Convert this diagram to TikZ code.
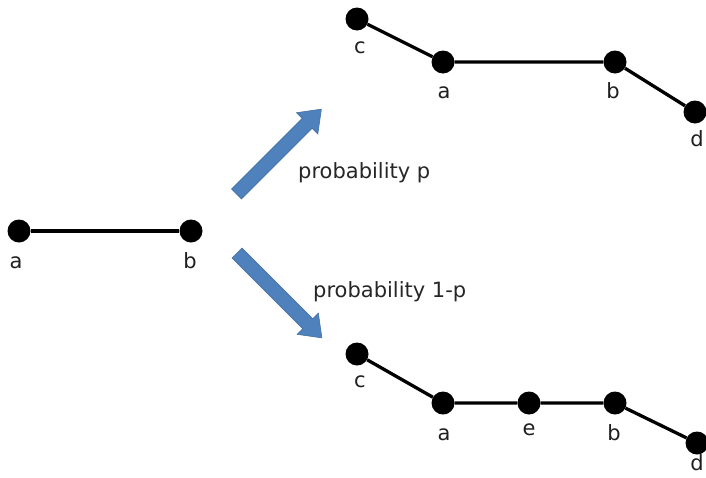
\documentclass[tikz,border=0pt]{standalone}
\usepackage{fontspec}
\setmainfont{DejaVu Sans}
\definecolor{arrowblue}{HTML}{4F81BD}
\definecolor{arrowedge}{HTML}{43709F}
\begin{document}
\begin{tikzpicture}[x=1pt,y=-1pt,
  vertex/.style={circle,fill=black,inner sep=0pt,minimum size=23pt},
  edge/.style={line width=3.3pt,black},
  lbl/.style={anchor=base,inner sep=0pt,font=\fontsize{21}{25}\selectfont,text=black!88},
  caption/.style={anchor=base west,inner sep=0pt,font=\fontsize{21}{25}\selectfont,text=black!85},
  blockarrow/.style={fill=arrowblue,draw=arrowedge,line width=0.6pt,line join=miter}]
\useasboundingbox (0,0) rectangle (706,477);

% starting graph: a single edge a--b
\node[vertex] (La) at (19,231) {};
\node[vertex] (Lb) at (191,231) {};
\draw[edge] (La) -- (Lb);
\node[lbl] at (16,268) {a};
\node[lbl] at (190,268) {b};

% block arrows towards the two outcomes
\begin{scope}[shift={(236.5,194)},rotate=45]
  \fill[blockarrow] (0,-7) -- (100,-7) -- (100,-15) -- (120,0) -- (100,15) -- (100,7) -- (0,7) -- cycle;
\end{scope}
\begin{scope}[shift={(237,253)},rotate=-45]
  \fill[blockarrow] (0,-7) -- (100,-7) -- (100,-15) -- (120,0) -- (100,15) -- (100,7) -- (0,7) -- cycle;
\end{scope}
\node[caption] (capP) at (298,178) {probability p};
\node[caption] (capQ) at (313,297) {probability 1-p};

% outcome with probability p
\node[vertex] (Tc) at (357,19) {};
\node[vertex] (Ta) at (443,62) {};
\node[vertex] (Tb) at (615,62) {};
\node[vertex] (Td) at (695,112) {};
\draw[edge] (Tc) -- (Ta) -- (Tb) -- (Td);
\node[lbl] at (360,53) {c};
\node[lbl] at (444,98) {a};
\node[lbl] at (613,98) {b};
\node[lbl] at (697,146) {d};

% outcome with probability 1-p
\node[vertex] (Bc) at (357,354) {};
\node[vertex] (Ba) at (443,403) {};
\node[vertex] (Be) at (529,403) {};
\node[vertex] (Bb) at (615,403) {};
\node[vertex] (Bd) at (697,443) {};
\draw[edge] (Bc) -- (Ba) -- (Be) -- (Bb) -- (Bd);
\node[lbl] at (360,387) {c};
\node[lbl] at (444,440) {a};
\node[lbl] at (529,435) {e};
\node[lbl] at (614,440) {b};
\node[lbl] at (697,470) {d};
\end{tikzpicture}
\end{document}
